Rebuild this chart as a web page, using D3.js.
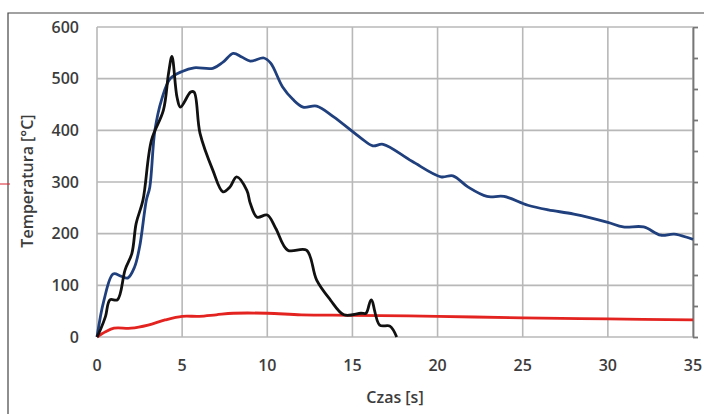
<!DOCTYPE html>
<html>
<head>
<meta charset="utf-8">
<script src="https://cdn.jsdelivr.net/npm/d3@7"></script>
<style>
  body { margin: 0; background: #fff; }
  svg { display: block; }
  text { font-family: "Open Sans", sans-serif; fill: #3c3c3c; font-weight: 600; }
</style>
</head>
<body>
<div id="chart"></div>
<script>
// series: time [s], temperature [°C]
const blueT = [0, 0.4, 0.95, 1.4, 1.8, 2.2, 2.5, 2.9, 3.1, 3.4, 3.8, 4.3, 5, 5.7, 6.8, 7.4, 8, 8.5, 9, 9.8, 10.2, 10.9, 11.5, 12.1, 12.9, 13.9, 15.5, 16.2, 16.8, 18.5, 20.2, 20.9, 21.8, 22.9, 23.9, 25.3, 26.5, 28, 30, 30.9, 32.1, 33.1, 33.9, 35];
const blueV = [0, 70, 122, 118, 114, 135, 174, 265, 290, 400, 460, 500, 514, 521, 520, 532, 549, 542, 534, 540, 530, 484, 460, 445, 447, 426, 385, 370, 373, 340, 310, 312, 290, 272, 272, 255, 246, 238, 222, 213, 213, 197, 199, 189];

const blackT = [0, 0.2, 0.5, 0.76, 1.2, 1.65, 2.05, 2.3, 2.7, 3.2, 3.9, 4.2, 4.4, 4.7, 4.9, 5.5, 5.7, 6.05, 6.8, 7.4, 7.8, 8.2, 8.8, 9.0, 9.4, 10, 10.5, 11.2, 12.3, 12.9, 13.7, 14.5, 15.5, 15.8, 16.1, 16.6, 17.2, 17.6];
const blackV = [0, 14, 40, 72, 72, 130, 162, 220, 265, 381, 439, 510, 543, 464, 445, 474, 474, 394, 323, 281, 290, 310, 284, 259, 232, 236, 210, 168, 168, 110, 72, 43, 46, 46, 72, 23, 21, 0];

const redT = [0, 0.5, 1, 2, 3, 4, 5, 6, 7, 8, 10, 12, 15, 20, 25, 30, 35];
const redV = [0, 10, 17, 17, 23, 33, 40, 40, 43, 46, 46, 43, 42, 40, 37, 35, 33];

const xTicks = [0, 5, 10, 15, 20, 25, 30, 35];
const yTicks = [0, 100, 200, 300, 400, 500, 600];

const width = 704, height = 414;
const plotLeft = 97, plotRight = 693, plotTop = 27, plotBottom = 337;

const svg = d3.select("#chart").append("svg")
  .attr("width", width).attr("height", height);

const x = d3.scaleLinear().domain([0, 35]).range([plotLeft, plotRight]);
const y = d3.scaleLinear().domain([0, 600]).range([plotBottom, plotTop]);

// outer frame (only top and left edges show)
svg.append("path")
  .attr("d", `M8,${height} V13 H${width}`)
  .attr("fill", "none").attr("stroke", "#444").attr("stroke-width", 1.2);

// stray red mark on the left edge
svg.append("line")
  .attr("x1", 0).attr("x2", 10).attr("y1", 184).attr("y2", 184)
  .attr("stroke", "#d9232e").attr("stroke-width", 1);

// grid
svg.append("g")
  .selectAll("line").data(xTicks).join("line")
  .attr("x1", d => x(d)).attr("x2", d => x(d))
  .attr("y1", plotTop).attr("y2", plotBottom)
  .attr("stroke", "#b8b8b8").attr("stroke-width", 1.6);

svg.append("g")
  .selectAll("line").data(yTicks).join("line")
  .attr("x1", plotLeft).attr("x2", plotRight)
  .attr("y1", d => y(d)).attr("y2", d => y(d))
  .attr("stroke", "#b8b8b8").attr("stroke-width", 1.6);

// right axis with small outward ticks
const y2 = d3.scaleLinear().domain([0, 10]).range([plotBottom, plotTop]);
svg.append("g")
  .attr("transform", `translate(${plotRight},0)`)
  .call(d3.axisRight(y2).ticks(10).tickSize(5).tickSizeOuter(0).tickFormat(""))
  .call(g => g.selectAll("path, line").attr("stroke", "#777").attr("stroke-width", 1.8));

// tick labels
svg.append("g")
  .selectAll("text").data(yTicks).join("text")
  .attr("x", 79).attr("y", d => y(d) + 5.5)
  .attr("text-anchor", "end").attr("font-size", 16)
  .text(d => d);

svg.append("g")
  .selectAll("text").data(xTicks).join("text")
  .attr("x", d => x(d)).attr("y", 371)
  .attr("text-anchor", "middle").attr("font-size", 16)
  .text(d => d);

svg.append("text")
  .attr("transform", `translate(33,181) rotate(-90)`)
  .attr("text-anchor", "middle").attr("font-size", 16)
  .text("Temperatura [°C]");

svg.append("text")
  .attr("x", 395).attr("y", 403)
  .attr("text-anchor", "middle").attr("font-size", 16)
  .text("Czas [s]");

// lines, smoothed like the spreadsheet curves
const line = d3.line()
  .x(d => x(d[0])).y(d => y(d[1]))
  .curve(d3.curveCatmullRom.alpha(0.5));

const series = [
  { t: redT, v: redV, color: "#e3231f" },
  { t: blueT, v: blueV, color: "#1f3f7d" },
  { t: blackT, v: blackV, color: "#111111" }
];

svg.append("g")
  .selectAll("path").data(series).join("path")
  .attr("d", s => line(s.t.map((t, i) => [t, s.v[i]])))
  .attr("fill", "none")
  .attr("stroke", s => s.color)
  .attr("stroke-width", 2.8)
  .attr("stroke-linejoin", "round");
</script>
</body>
</html>
